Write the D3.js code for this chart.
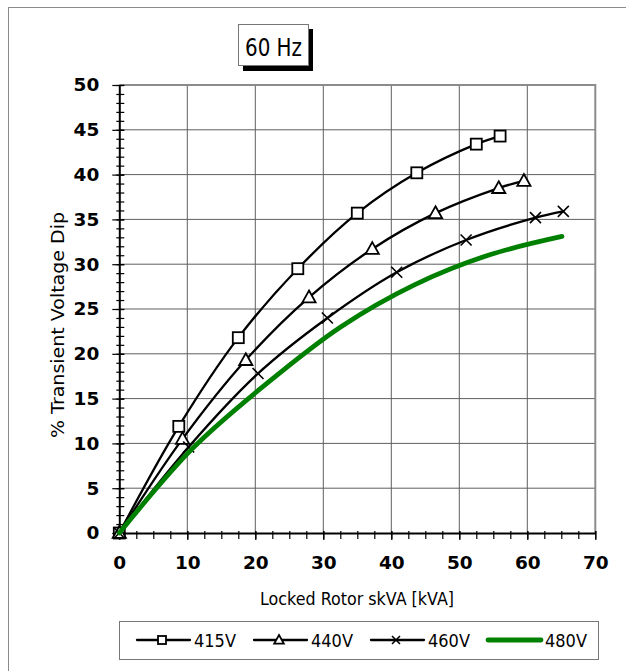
<!DOCTYPE html>
<html>
<head>
<meta charset="utf-8">
<script src="https://cdn.jsdelivr.net/npm/d3@7/dist/d3.min.js"></script>
<style>
  body { margin: 0; background: #fff; }
  svg { display: block; font-family: "DejaVu Sans", sans-serif; }
</style>
</head>
<body>
<div id="chart"></div>
<script>
// data
const seriesNames = ['415V', '440V', '460V', '480V'];
const kva415 = [0, 8.75, 17.5, 26.25, 35, 43.75, 52.5, 56];
const dip415 = [0, 11.9, 21.8, 29.5, 35.7, 40.2, 43.4, 44.3];
const kva440 = [0, 9.3, 18.6, 27.9, 37.2, 46.5, 55.8, 59.5];
const dip440 = [0, 10.5, 19.3, 26.3, 31.7, 35.7, 38.5, 39.3];
const kva460 = [0, 10.2, 20.4, 30.6, 40.8, 51.0, 61.2, 65.3];
const dip460 = [0, 9.6, 17.8, 24.0, 29.1, 32.7, 35.2, 35.9];
const kva480 = [0, 10.85, 21.7, 32.55, 43.4, 54.25, 65.1];
const dip480 = [0, 9.5, 16.7, 23.0, 27.7, 31.0, 33.1];
const xTicks = [0, 10, 20, 30, 40, 50, 60, 70];
const yTicks = [0, 5, 10, 15, 20, 25, 30, 35, 40, 45, 50];

const W = 626, H = 671;
const x = d3.scaleLinear().domain([0, 70]).range([119.3, 595.3]);
const y = d3.scaleLinear().domain([0, 50]).range([533, 85]);

const svg = d3.select('#chart').append('svg')
  .attr('width', W)
  .attr('height', H);

svg.append('rect').attr('width', W).attr('height', H).attr('fill', '#fff');

// outer frame (runs off the right / bottom edge)
svg.append('rect')
  .attr('x', 8.5).attr('y', 7.5)
  .attr('width', 700).attr('height', 700)
  .attr('fill', 'none').attr('stroke', '#8a8a8a').attr('stroke-width', 1);

// title box with shadow
svg.append('rect').attr('x', 243).attr('y', 29).attr('width', 70).attr('height', 42).attr('fill', '#000');
svg.append('rect').attr('x', 238.5).attr('y', 24.5).attr('width', 70).attr('height', 41)
  .attr('fill', '#fff').attr('stroke', '#777').attr('stroke-width', 1);
svg.append('text')
  .attr('x', 273.5).attr('y', 56)
  .attr('text-anchor', 'middle')
  .attr('font-size', 25)
  .attr('textLength', 57).attr('lengthAdjust', 'spacingAndGlyphs')
  .text('60 Hz');

// grid
const grid = svg.append('g');
grid.selectAll('.hg')
  .data(yTicks.filter(d => d > 0 && d < 50))
  .enter().append('line')
  .attr('x1', x(0)).attr('x2', x(70))
  .attr('y1', d => y(d)).attr('y2', d => y(d))
  .attr('stroke', '#5e5e5e').attr('stroke-width', 1);
grid.selectAll('.vg')
  .data(xTicks.filter(d => d > 0 && d < 70))
  .enter().append('line')
  .attr('x1', d => x(d)).attr('x2', d => x(d))
  .attr('y1', y(0)).attr('y2', y(50))
  .attr('stroke', '#5e5e5e').attr('stroke-width', 1);

// top and right border of plot area
svg.append('path')
  .attr('d', `M${x(0)},${y(50)}H${x(70)}V${y(0)}`)
  .attr('fill', 'none').attr('stroke', '#8c8c8c').attr('stroke-width', 2);

// minor ticks
svg.append('g')
  .attr('transform', `translate(${x(0)},0)`)
  .call(d3.axisLeft(y).tickValues(d3.range(0, 51, 1)).tickSize(3).tickFormat(''))
  .call(g => g.select('.domain').remove())
  .call(g => g.selectAll('.tick line').attr('x2', -3).attr('x1', 5).attr('stroke-width', 1.2));
svg.append('g')
  .attr('transform', `translate(0,${y(0)})`)
  .call(d3.axisBottom(x).tickValues(d3.range(0, 70.1, 2.5)).tickSize(6).tickFormat(''))
  .call(g => g.select('.domain').remove())
  .call(g => g.selectAll('.tick line').attr('y1', -2).attr('stroke-width', 1.2));

// major axes
const yAxis = svg.append('g')
  .attr('transform', `translate(${x(0)},0)`)
  .call(d3.axisLeft(y).tickValues(yTicks).tickSize(6).tickPadding(14).tickSizeOuter(0));
yAxis.select('.domain').attr('stroke-width', 2);
yAxis.selectAll('.tick line').attr('x2', -7).attr('x1', 5).attr('stroke-width', 1.2);
yAxis.selectAll('.tick text')
  .attr('font-size', 18.5).attr('font-weight', 'bold')
  .attr('font-family', '"DejaVu Sans", sans-serif').attr('fill', '#000');

const xAxis = svg.append('g')
  .attr('transform', `translate(0,${y(0)})`)
  .call(d3.axisBottom(x).tickValues(xTicks).tickSize(7).tickSizeOuter(0));
xAxis.select('.domain').attr('stroke-width', 2);
xAxis.selectAll('.tick line').attr('y1', -2).attr('stroke-width', 1.2);
xAxis.selectAll('.tick text')
  .attr('y', 36).attr('dy', 0)
  .attr('font-size', 18.5).attr('font-weight', 'bold')
  .attr('font-family', '"DejaVu Sans", sans-serif').attr('fill', '#000');

// axis titles
svg.append('text')
  .attr('transform', `translate(64,325) rotate(-90)`)
  .attr('text-anchor', 'middle')
  .attr('font-size', 18)
  .attr('textLength', 226).attr('lengthAdjust', 'spacingAndGlyphs')
  .text('% Transient Voltage Dip');
svg.append('text')
  .attr('x', 357).attr('y', 605)
  .attr('text-anchor', 'middle')
  .attr('font-size', 17)
  .attr('textLength', 194).attr('lengthAdjust', 'spacingAndGlyphs')
  .text('Locked Rotor skVA [kVA]');

// series
const data = [
  { name: seriesNames[0], pts: d3.zip(kva415, dip415), marker: 'square', color: '#000', w: 2.3 },
  { name: seriesNames[1], pts: d3.zip(kva440, dip440), marker: 'triangle', color: '#000', w: 2.3 },
  { name: seriesNames[2], pts: d3.zip(kva460, dip460), marker: 'cross', color: '#000', w: 2.3 },
  { name: seriesNames[3], pts: d3.zip(kva480, dip480), marker: null, color: '#008000', w: 4.8 }
];

const line = d3.line()
  .x(d => x(d[0]))
  .y(d => y(d[1]))
  .curve(d3.curveCatmullRom.alpha(0.5));

function drawMarker(g, type, s) {
  if (type === 'square') {
    g.append('rect').attr('x', -s / 2).attr('y', -s / 2).attr('width', s).attr('height', s)
      .attr('fill', '#fff').attr('stroke', '#000').attr('stroke-width', 1.8);
  } else if (type === 'triangle') {
    g.append('path').attr('d', `M0,${-s * 0.62}L${s * 0.6},${s * 0.45}L${-s * 0.6},${s * 0.45}Z`)
      .attr('fill', '#fff').attr('stroke', '#000').attr('stroke-width', 1.8);
  } else if (type === 'cross') {
    const h = s / 2;
    g.append('path').attr('d', `M${-h},${-h}L${h},${h}M${-h},${h}L${h},${-h}`)
      .attr('stroke', '#000').attr('stroke-width', 1.6);
  }
}

const plot = svg.append('g');
data.forEach(s => {
  plot.append('path')
    .attr('d', line(s.pts))
    .attr('fill', 'none')
    .attr('stroke', s.color)
    .attr('stroke-width', s.w)
    .attr('stroke-linecap', 'round');
  if (s.marker) {
    plot.selectAll(null)
      .data(s.pts)
      .enter().append('g')
      .attr('transform', d => `translate(${x(d[0])},${y(d[1])})`)
      .each(function () { drawMarker(d3.select(this), s.marker, 11); });
  }
});

// legend
const legend = svg.append('g');
legend.append('rect')
  .attr('x', 119.5).attr('y', 621.5).attr('width', 479).attr('height', 38)
  .attr('fill', '#fff').attr('stroke', '#777').attr('stroke-width', 1);
const lx = d3.scalePoint().domain(seriesNames).range([137, 488]);
data.forEach(s => {
  const g = legend.append('g').attr('transform', `translate(${lx(s.name)},640)`);
  g.append('line').attr('x1', 0).attr('x2', 53)
    .attr('stroke', s.color).attr('stroke-width', s.w).attr('stroke-linecap', 'round');
  if (s.marker) {
    const m = g.append('g').attr('transform', 'translate(25,0)');
    drawMarker(m, s.marker, 8);
  }
  g.append('text')
    .attr('x', 57).attr('y', 7)
    .attr('font-size', 18)
    .attr('textLength', 42).attr('lengthAdjust', 'spacingAndGlyphs')
    .text(s.name);
});
</script>
</body>
</html>
